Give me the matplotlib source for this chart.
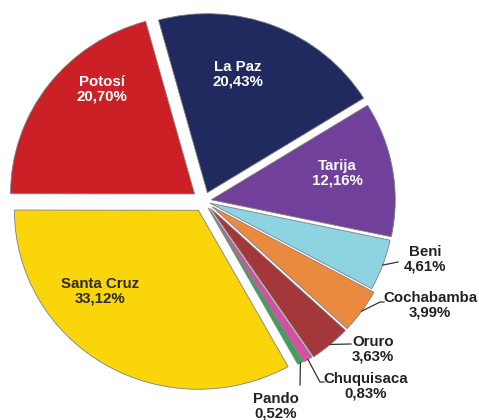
import numpy as np
import matplotlib.pyplot as plt

plt.rcParams['font.family'] = ['Liberation Sans', 'DejaVu Sans']

# data, clockwise from the top
departments = ['La Paz', 'Tarija', 'Beni', 'Cochabamba', 'Oruro',
               'Chuquisaca', 'Pando', 'Santa Cruz', 'Potosí']
shares = [20.43, 12.16, 4.61, 3.99, 3.63, 0.83, 0.52, 33.12, 20.70]

colors = ['#202a5f', '#71409a', '#8dd3e2', '#e98a3e', '#a3373a',
          '#d64fa5', '#3aa35a', '#f9d50a', '#cc2027']
explode = [0.05, 0.04, 0.035, 0.055, 0.055, 0.05, 0.045, 0.06, 0.065]

# layout (pixel positions in the 479x420 picture)
W, H = 479, 420
CX, CY = 204, 201      # pie centre
SX, SY = 184, 179      # pixels per unit

def px(x, y):
    return (x - CX) / SX, (CY - y) / SY

label_pos = {
    'La Paz': (238, 74), 'Tarija': (337, 173), 'Potosí': (102, 89),
    'Santa Cruz': (100, 291), 'Beni': (425, 259), 'Cochabamba': (430, 305),
    'Oruro': (373, 349), 'Chuquisaca': (366, 386), 'Pando': (276, 406),
}
inside_color = {'La Paz': 'white', 'Tarija': 'white', 'Potosí': 'white',
                'Santa Cruz': '#2a2a2a'}
leaders = {
    'Beni': [(398, 262)],
    'Cochabamba': [(380, 302), (384, 302)],
    'Oruro': [(351, 344)],
    'Chuquisaca': [(320, 382), (324, 382)],
    'Pando': [(300, 385)],
}

fig = plt.figure(figsize=(W / 100, H / 100), dpi=100)
ax = fig.add_axes([0, 0, 1, 1])

wedges, _ = ax.pie(shares, colors=colors, explode=explode, startangle=105.4,
                   counterclock=False, radius=1,
                   wedgeprops=dict(edgecolor='#808080', linewidth=0.6))

for w, name, v in zip(wedges, departments, shares):
    txt = name + '\n' + f'{v:.2f}'.replace('.', ',') + '%'
    tx, ty = px(*label_pos[name])
    col = inside_color.get(name, '#222222')
    ax.text(tx, ty, txt, ha='center', va='center', fontsize=10.8,
            fontweight='bold', color=col, linespacing=1.08)
    if name in leaders:
        mid = np.deg2rad((w.theta1 + w.theta2) / 2)
        x0 = w.center[0] + w.r * np.cos(mid)
        y0 = w.center[1] + w.r * np.sin(mid)
        pts = [px(*p) for p in leaders[name]]
        xs = [x0] + [p[0] for p in pts]
        ys = [y0] + [p[1] for p in pts]
        ax.plot(xs, ys, color='#333333', lw=0.9)

ax.set_aspect('auto')
ax.set_xlim(-CX / SX, (W - CX) / SX)
ax.set_ylim(-(H - CY) / SY, CY / SY)
ax.axis('off')

fig.savefig('out.png', dpi=100)
